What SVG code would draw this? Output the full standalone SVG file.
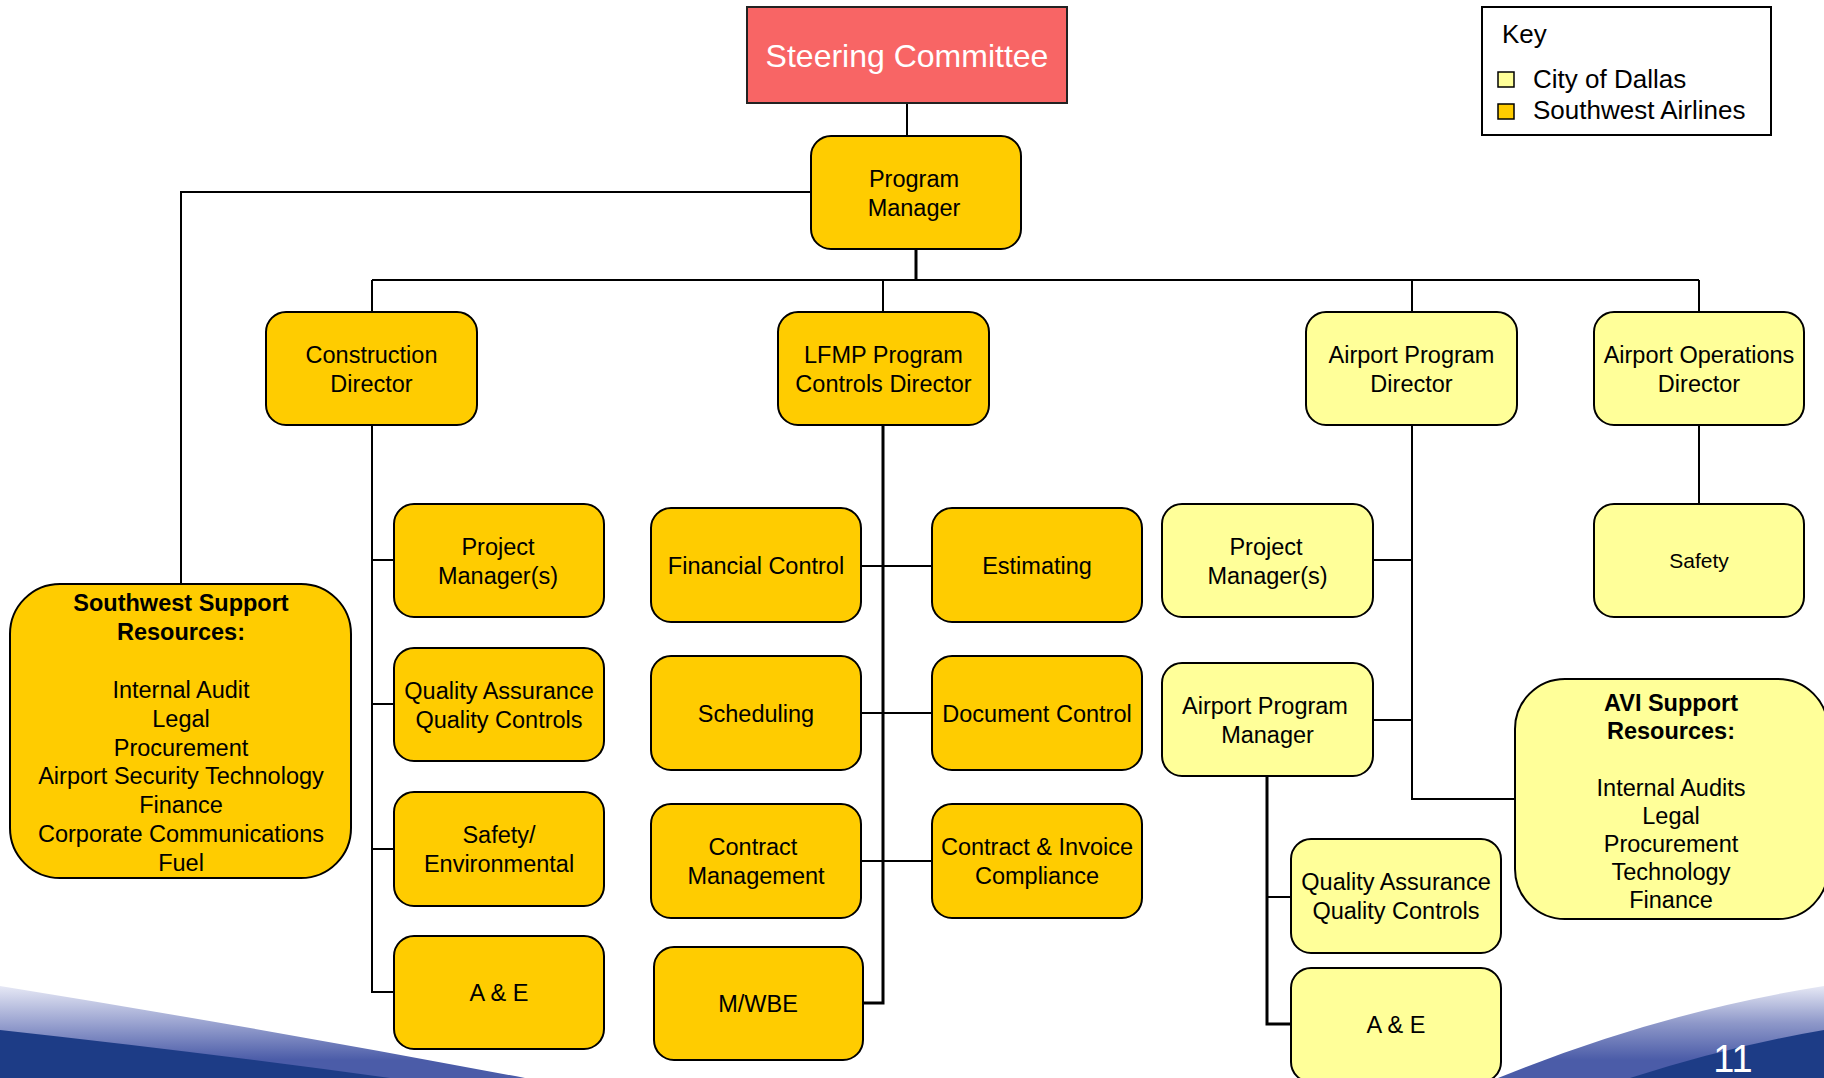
<svg xmlns="http://www.w3.org/2000/svg" width="1824" height="1078" viewBox="0 0 1824 1078">
<defs>
<style>
.sw{fill:#FFCC00;stroke:#000;stroke-width:2}
.cd{fill:#FFFF99;stroke:#000;stroke-width:2}
.ln{fill:none;stroke:#000;stroke-width:2}
.lt{fill:none;stroke:#000;stroke-width:3}
text{font-family:"Liberation Sans",Arial,sans-serif;font-size:23.5px;text-anchor:middle;fill:#000}
.b{font-weight:bold}
</style>
<linearGradient id="gl" x1="0" y1="986" x2="0" y2="1060" gradientUnits="userSpaceOnUse">
<stop offset="0" stop-color="#e6e8f5"/>
<stop offset="0.5" stop-color="#9aa3d0"/>
<stop offset="1" stop-color="#4b5ca8"/>
</linearGradient>
<linearGradient id="gr" x1="0" y1="986" x2="0" y2="1060" gradientUnits="userSpaceOnUse">
<stop offset="0" stop-color="#e6e8f5"/>
<stop offset="0.5" stop-color="#8e98c9"/>
<stop offset="1" stop-color="#4b5ca8"/>
</linearGradient>
</defs>
<rect width="1824" height="1078" fill="#fff"/>
<g id="background">
<path d="M0,986 Q260,1028 525,1078 L0,1078 Z" fill="url(#gl)"/>
<path d="M0,1030 Q200,1052 390,1078 L0,1078 Z" fill="#1d3c86"/>
<path d="M1498,1078 Q1660,1012 1824,986 L1824,1078 Z" fill="url(#gr)"/>
<path d="M1630,1078 Q1730,1046 1824,1030 L1824,1078 Z" fill="#1d3c86"/>
<text x="1733" y="1072" style="font-size:38px;fill:#fff">11</text>
</g>
<g id="connectors">
<line class="ln" x1="907" y1="103" x2="907" y2="136"/>
<polyline class="ln" points="811,192 181,192 181,584"/>
<line class="lt" x1="916" y1="249" x2="916" y2="280"/>
<line class="ln" x1="372" y1="280" x2="1699" y2="280"/>
<line class="ln" x1="372" y1="280" x2="372" y2="312"/>
<line class="ln" x1="883" y1="280" x2="883" y2="312"/>
<line class="ln" x1="1412" y1="280" x2="1412" y2="312"/>
<line class="ln" x1="1699" y1="280" x2="1699" y2="312"/>
<polyline class="ln" points="372,425 372,992 394,992"/>
<line class="ln" x1="372" y1="560" x2="394" y2="560"/>
<line class="ln" x1="372" y1="704" x2="394" y2="704"/>
<line class="ln" x1="372" y1="849" x2="394" y2="849"/>
<polyline class="lt" points="883,425 883,1003 863,1003"/>
<line class="ln" x1="861" y1="566" x2="932" y2="566"/>
<line class="ln" x1="861" y1="713" x2="932" y2="713"/>
<line class="ln" x1="861" y1="861" x2="932" y2="861"/>
<polyline class="ln" points="1412,425 1412,799 1515,799"/>
<line class="ln" x1="1373" y1="560" x2="1412" y2="560"/>
<line class="ln" x1="1373" y1="720" x2="1412" y2="720"/>
<polyline class="lt" points="1267,776 1267,1024 1291,1024"/>
<line class="ln" x1="1267" y1="897" x2="1291" y2="897"/>
<line class="ln" x1="1699" y1="425" x2="1699" y2="504"/>
</g>
<g id="key">
<rect x="1482" y="7" width="289" height="128" fill="#fff" stroke="#000" stroke-width="2"/>
<text x="1502" y="43" style="font-size:26px;text-anchor:start">Key</text>
<rect x="1498" y="72" width="16" height="15" fill="#FFFF99" stroke="#000" stroke-width="1.5"/>
<text x="1533" y="88" style="font-size:26px;text-anchor:start">City of Dallas</text>
<rect x="1498" y="104" width="16" height="15" fill="#FFCC00" stroke="#000" stroke-width="1.5"/>
<text x="1533" y="119" style="font-size:26px;text-anchor:start">Southwest Airlines</text>
</g>
<g id="steering-committee">
<rect x="747" y="7" width="320" height="96" fill="#F86565" stroke="#222" stroke-width="2"/>
<text x="907" y="67" style="font-size:32px;fill:#fff">Steering Committee</text>
</g>
<g id="program-manager">
<rect class="sw" x="811" y="136" width="210" height="113" rx="20"/>
<text x="914" y="186.5">Program</text><text x="914" y="215.5">Manager</text>
</g>
<g id="construction-director">
<rect class="sw" x="266" y="312" width="211" height="113" rx="20"/>
<text x="371.5" y="362.5">Construction</text><text x="371.5" y="391.5">Director</text>
</g>
<g id="lfmp-director">
<rect class="sw" x="778" y="312" width="211" height="113" rx="20"/>
<text x="883.5" y="362.5">LFMP Program</text><text x="883.5" y="391.5">Controls Director</text>
</g>
<g id="airport-program-director">
<rect class="cd" x="1306" y="312" width="211" height="113" rx="20"/>
<text x="1411.5" y="362.5">Airport Program</text><text x="1411.5" y="391.5">Director</text>
</g>
<g id="airport-operations-director">
<rect class="cd" x="1594" y="312" width="210" height="113" rx="20"/>
<text x="1699" y="362.5">Airport Operations</text><text x="1699" y="391.5">Director</text>
</g>
<g id="southwest-support">
<rect class="sw" x="10" y="584" width="341" height="294" rx="50"/>
<text class="b" x="181" y="611">Southwest Support</text>
<text class="b" x="181" y="640">Resources:</text>
<text x="181" y="697.5">Internal Audit</text>
<text x="181" y="726.5">Legal</text>
<text x="181" y="755.5">Procurement</text>
<text x="181" y="784">Airport Security Technology</text>
<text x="181" y="813">Finance</text>
<text x="181" y="842">Corporate Communications</text>
<text x="181" y="870.5">Fuel</text>
</g>
<g id="cons-project-managers">
<rect class="sw" x="394" y="504" width="210" height="113" rx="20"/>
<text x="498" y="554.5">Project</text><text x="498" y="583.5">Manager(s)</text>
</g>
<g id="cons-qa-qc">
<rect class="sw" x="394" y="648" width="210" height="113" rx="20"/>
<text x="499" y="698.5">Quality Assurance</text><text x="499" y="727.5">Quality Controls</text>
</g>
<g id="cons-safety-env">
<rect class="sw" x="394" y="792" width="210" height="114" rx="20"/>
<text x="499" y="843">Safety/</text><text x="499" y="872">Environmental</text>
</g>
<g id="cons-ae">
<rect class="sw" x="394" y="936" width="210" height="113" rx="20"/>
<text x="499" y="1001">A &amp; E</text>
</g>
<g id="financial-control">
<rect class="sw" x="651" y="508" width="210" height="114" rx="20"/>
<text x="756" y="573.5">Financial Control</text>
</g>
<g id="estimating">
<rect class="sw" x="932" y="508" width="210" height="114" rx="20"/>
<text x="1037" y="573.5">Estimating</text>
</g>
<g id="scheduling">
<rect class="sw" x="651" y="656" width="210" height="114" rx="20"/>
<text x="756" y="721.5">Scheduling</text>
</g>
<g id="document-control">
<rect class="sw" x="932" y="656" width="210" height="114" rx="20"/>
<text x="1037" y="721.5">Document Control</text>
</g>
<g id="contract-management">
<rect class="sw" x="651" y="804" width="210" height="114" rx="20"/>
<text x="753" y="855">Contract</text><text x="756" y="884">Management</text>
</g>
<g id="contract-invoice">
<rect class="sw" x="932" y="804" width="210" height="114" rx="20"/>
<text x="1037" y="855">Contract &amp; Invoice</text><text x="1037" y="884">Compliance</text>
</g>
<g id="mwbe">
<rect class="sw" x="654" y="947" width="209" height="113" rx="20"/>
<text x="758" y="1012">M/WBE</text>
</g>
<g id="city-project-managers">
<rect class="cd" x="1162" y="504" width="211" height="113" rx="20"/>
<text x="1266" y="554.5">Project</text><text x="1267.5" y="583.5">Manager(s)</text>
</g>
<g id="airport-program-manager">
<rect class="cd" x="1162" y="663" width="211" height="113" rx="20"/>
<text x="1265" y="713.5">Airport Program</text><text x="1267.5" y="742.5">Manager</text>
</g>
<g id="city-qa-qc">
<rect class="cd" x="1291" y="839" width="210" height="114" rx="20"/>
<text x="1396" y="890">Quality Assurance</text><text x="1396" y="919">Quality Controls</text>
</g>
<g id="city-ae">
<rect class="cd" x="1291" y="968" width="210" height="114" rx="20"/>
<text x="1396" y="1033">A &amp; E</text>
</g>
<g id="avi-support">
<rect class="cd" x="1515" y="679" width="313" height="240" rx="50"/>
<text class="b" x="1671" y="710.5">AVI Support</text>
<text class="b" x="1671" y="738.5">Resources:</text>
<text x="1671" y="795.5">Internal Audits</text>
<text x="1671" y="823.5">Legal</text>
<text x="1671" y="851.5">Procurement</text>
<text x="1671" y="879.5">Technology</text>
<text x="1671" y="908">Finance</text>
</g>
<g id="ops-safety">
<rect class="cd" x="1594" y="504" width="210" height="113" rx="20"/>
<text x="1699" y="568" style="font-size:21px">Safety</text>
</g>
</svg>
